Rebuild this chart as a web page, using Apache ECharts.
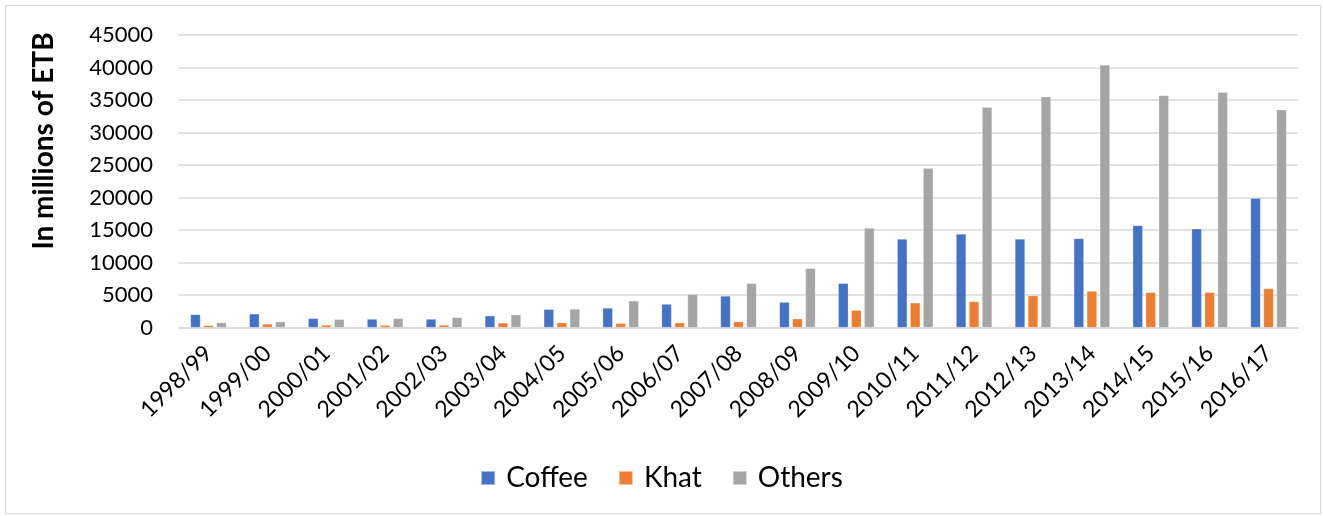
<!DOCTYPE html>
<html>
<head>
<meta charset="utf-8">
<script src="https://cdn.jsdelivr.net/npm/echarts@6/dist/echarts.min.js"></script>
<style>
html,body{margin:0;padding:0;background:#fff;}
#frame{position:absolute;left:5px;top:5px;width:1316px;height:509px;border:1px solid #d9d9d9;box-sizing:border-box;}
#chart{position:absolute;left:0;top:0;width:1323px;height:516px;}
</style>
</head>
<body>
<div id="frame"></div>
<div id="chart"></div>
<script>
const categories = ['1998/99','1999/00','2000/01','2001/02','2002/03','2003/04','2004/05','2005/06','2006/07','2007/08','2008/09','2009/10','2010/11','2011/12','2012/13','2013/14','2014/15','2015/16','2016/17'];
const coffee = [2000, 2100, 1400, 1300, 1300, 1800, 2800, 3000, 3600, 4850, 3900, 6800, 13600, 14400, 13600, 13700, 15700, 15200, 19900];
const khat   = [330, 540, 380, 350, 380, 700, 740, 650, 740, 900, 1350, 2650, 3800, 4000, 4900, 5600, 5400, 5400, 6000];
const others = [750, 900, 1250, 1400, 1550, 1970, 2850, 4100, 5100, 6800, 9100, 15300, 24500, 33900, 35500, 40400, 35700, 36200, 33500];
const yTicks = [0, 5000, 10000, 15000, 20000, 25000, 30000, 35000, 40000, 45000];

const font = 'Lato, "Open Sans", sans-serif';
const chart = echarts.init(document.getElementById('chart'));
const mk = (name, data, color) => ({
  name, type: 'bar', data, barWidth: 10, barGap: '30%',
  itemStyle: { color, borderColor: 'rgba(255,255,255,0.5)', borderWidth: 0.5 },
  emphasis: { disabled: true }
});
chart.setOption({
  animation: false,
  textStyle: { fontFamily: font },
  grid: { left: 179, right: 25, top: 35, bottom: 188.5, containLabel: false },
  legend: {
    bottom: 19, left: 'center', itemWidth: 14, itemHeight: 14, itemGap: 30,
    icon: 'rect',
    textStyle: { fontSize: 28, color: '#000', fontFamily: font, padding: [0, 0, 0, 6] },
    data: ['Coffee', 'Khat', 'Others']
  },
  graphic: [{
    type: 'text', x: 44, y: 141, rotation: Math.PI / 2,
    style: { text: 'In millions of ETB', fontSize: 28, fontWeight: 'bold', fill: '#000', fontFamily: font, align: 'center', verticalAlign: 'middle' }
  }],
  xAxis: {
    type: 'category', data: categories,
    axisLine: { lineStyle: { color: '#d9d9d9', width: 1.5 } },
    axisTick: { show: false },
    axisLabel: { rotate: 45, fontSize: 23, color: '#000', margin: 22, interval: 0, fontFamily: font }
  },
  yAxis: {
    type: 'value', min: yTicks[0], max: yTicks[yTicks.length - 1], interval: 5000,
    axisLine: { show: false }, axisTick: { show: false },
    splitLine: { lineStyle: { color: '#d9d9d9', width: 1.5 } },
    axisLabel: { fontSize: 22, color: '#000', margin: 26, fontFamily: font, formatter: v => String(v) }
  },
  series: [mk('Coffee', coffee, '#4472C4'), mk('Khat', khat, '#ED7D31'), mk('Others', others, '#A5A5A5')]
});
</script>
</body>
</html>
